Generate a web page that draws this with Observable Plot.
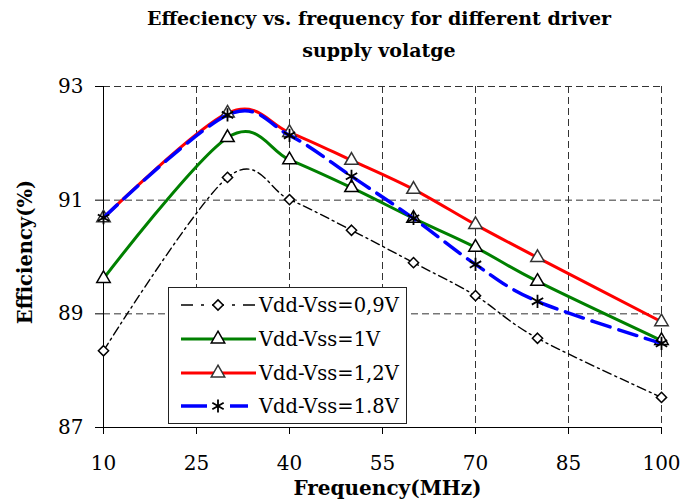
<!DOCTYPE html>
<html>
<head>
<meta charset="utf-8">
<script src="https://cdn.jsdelivr.net/npm/d3@7"></script>
<script src="https://cdn.jsdelivr.net/npm/@observablehq/plot@0.6"></script>
<style>
  body { margin: 0; background: #fff; }
  #wrap { position: relative; width: 681px; height: 501px; font-family: "DejaVu Serif", "Liberation Serif", serif; }
  #title { height: 72px; text-align: center; font-weight: bold; font-size: 19px; line-height: 32px; padding-top: 2px; box-sizing: border-box; color: #000; padding-left: 77px; }
  #legend { position: absolute; left: 168px; top: 287px; width: 239px; height: 137px; background: #fff; border: 1px solid #222; box-sizing: border-box; }
</style>
</head>
<body>
<div id="wrap">
  <div id="title">Effeciency vs. frequency for different driver<br>supply volatge</div>
  <div id="chart"></div>
  <div id="legend"></div>
</div>
<script>
const freq = [10, 30, 40, 50, 60, 70, 80, 100];
const v09 = [88.35, 91.40, 91.01, 90.47, 89.90, 89.32, 88.57, 87.53];
const v1  = [89.62, 92.10, 91.71, 91.22, 90.68, 90.17, 89.57, 88.53];
const v12 = [90.69, 92.53, 92.19, 91.70, 91.19, 90.57, 89.99, 88.86];
const v18 = [90.69, 92.50, 92.14, 91.42, 90.68, 89.87, 89.22, 88.48];
const seriesNames = ["Vdd-Vss=0,9V", "Vdd-Vss=1V", "Vdd-Vss=1,2V", "Vdd-Vss=1.8V"];
const xTicks = [10, 25, 40, 55, 70, 85, 100];
const yTicks = [87, 89, 91, 93];

const FONT = "'DejaVu Serif', 'Liberation Serif', serif";
const styles = [
  {stroke: "#000000", width: 1.4, dash: "9,4,2,4", symbol: "diamond2", mstroke: "#000", r: 4.6},
  {stroke: "#008000", width: 3, dash: null, symbol: "triangle", mstroke: "#000", r: 5},
  {stroke: "#ff0000", width: 3, dash: null, symbol: "triangle", mstroke: "#333", r: 5},
  {stroke: "#0000ff", width: 3.5, dash: "19,9", symbol: "asterisk", mstroke: "#000", r: 6.2}
];
const allVals = [v09, v1, v12, v18];
const series = allVals.map((vals, i) => freq.map((f, j) => ({f, v: vals[j], s: seriesNames[i]})));

const marks = [
  Plot.gridX(xTicks.slice(1), {stroke: "#333", strokeOpacity: 1, strokeDasharray: "7,4"}),
  Plot.gridY(yTicks.slice(1), {stroke: "#333", strokeOpacity: 1, strokeDasharray: "7,4"}),
  Plot.ruleX([xTicks[0]], {stroke: "#000", strokeWidth: 1}),
  Plot.ruleY([yTicks[0]], {stroke: "#000", strokeWidth: 1}),
  Plot.axisX(xTicks, {tickSize: 7, tickPadding: 21, fontSize: 20, label: null, stroke: "#000", tickFormat: d => String(d)}),
  Plot.axisY(yTicks, {tickSize: 8, tickPadding: 12, fontSize: 20, label: null, stroke: "#000", tickFormat: d => String(d)})
];
series.forEach((data, i) => {
  const st = styles[i];
  marks.push(Plot.line(data, {x: "f", y: "v", stroke: st.stroke, strokeWidth: st.width, strokeDasharray: st.dash, curve: "cardinal"}));
  marks.push(Plot.dot(data, {x: "f", y: "v", symbol: st.symbol, r: st.r, fill: st.symbol === "asterisk" ? "none" : "#fff", stroke: st.mstroke, strokeWidth: st.symbol === "asterisk" ? 1.8 : 1.5}));
});
marks.push(Plot.text(["Efficiency(%)"], {frameAnchor: "left", dx: -78, dy: -5, rotate: -90, fontSize: 19.5, fontWeight: "bold", textAnchor: "middle"}));
marks.push(Plot.text(["Frequency(MHz)"], {frameAnchor: "bottom", dy: 61, dx: 5, fontSize: 20, fontWeight: "bold", lineAnchor: "middle"}));

const chart = Plot.plot({
  width: 681,
  height: 429,
  marginLeft: 103,
  marginRight: 20,
  marginTop: 14,
  marginBottom: 74,
  style: {fontFamily: FONT, color: "#000", background: "#fff", overflow: "visible"},
  x: {domain: [xTicks[0], xTicks[xTicks.length - 1]]},
  y: {domain: [yTicks[0], yTicks[yTicks.length - 1]]},
  marks
});
document.getElementById("chart").appendChild(chart);

// legend
const lsvg = d3.select("#legend").append("svg").attr("width", 237).attr("height", 135).style("display", "block");
const rowY = [17, 51, 85, 118];
const symMap = {diamond2: d3.symbolDiamond2, triangle: d3.symbolTriangle, asterisk: d3.symbolAsterisk};
seriesNames.forEach((name, i) => {
  const st = styles[i];
  const g = lsvg.append("g").attr("transform", `translate(0,${rowY[i]})`);
  const x2 = i === 3 ? 79 : 87;
  g.append("line").attr("x1", 12).attr("x2", x2).attr("y1", 0).attr("y2", 0)
    .attr("stroke", st.stroke).attr("stroke-width", st.width)
    .attr("stroke-dasharray", i === 0 ? "12,8,3,8" : i === 3 ? "26,23" : null);
  g.append("path").attr("transform", "translate(49,0)")
    .attr("d", d3.symbol(symMap[st.symbol], Math.PI * st.r * st.r)())
    .attr("fill", st.symbol === "asterisk" ? "none" : "#fff")
    .attr("stroke", st.mstroke).attr("stroke-width", st.symbol === "asterisk" ? 1.8 : 1.5);
  g.append("text").attr("x", 90).attr("y", 0).attr("dy", "0.35em")
    .attr("font-size", 19.5).attr("font-family", FONT).text(name);
});
</script>
</body>
</html>
